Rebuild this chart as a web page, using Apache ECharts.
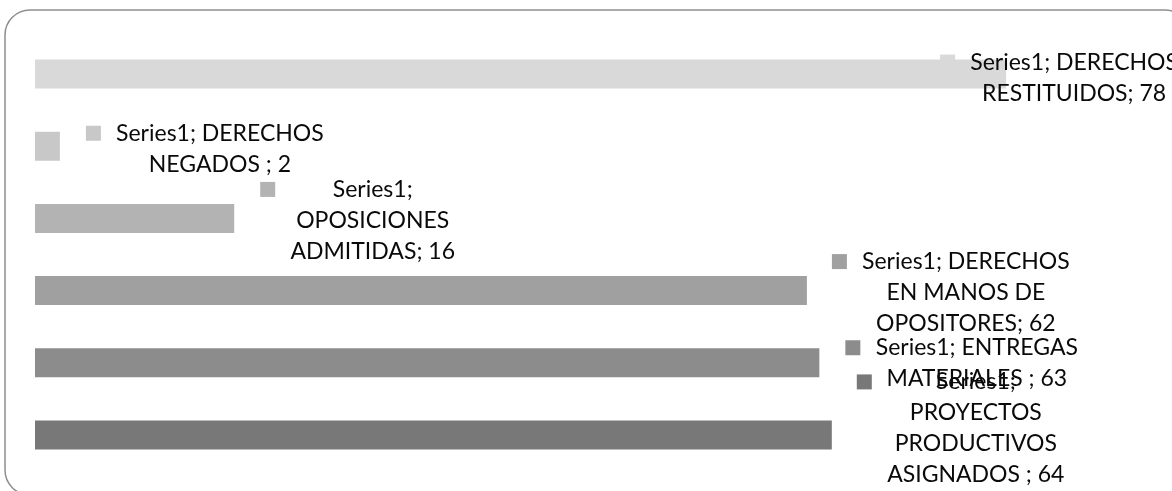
<!DOCTYPE html>
<html>
<head>
<meta charset="utf-8">
<script src="https://cdn.jsdelivr.net/npm/echarts@6/dist/echarts.min.js"></script>
<style>
  html, body { margin: 0; padding: 0; background: #fff; }
  #chart { width: 1172px; height: 491px; }
</style>
</head>
<body>
<div id="chart"></div>
<script>
// categorias y valores
var seriesName = 'Series1';
var categories = [
  'DERECHOS RESTITUIDOS',
  'DERECHOS NEGADOS ',
  'OPOSICIONES ADMITIDAS',
  'DERECHOS EN MANOS DE OPOSITORES',
  'ENTREGAS MATERIALES ',
  'PROYECTOS PRODUCTIVOS ASIGNADOS '
];
var values = [78, 2, 16, 62, 63, 64];
var colors = ['#d9d9d9', '#c8c8c8', '#b3b3b3', '#a0a0a0', '#8c8c8c', '#787878'];
// palabras por linea en cada etiqueta (como quedaron en Excel)
var labelLineWords = [[2, 2], [2, 3], [1, 1, 2], [2, 3, 2], [2, 3], [1, 1, 1, 3]];

// posicion de cada etiqueta: [x desde el final de la barra, centro 1a linea desde el centro de la barra]
var labelOffsets = [[-66, -12], [26, -13], [26, -29], [25, -29], [26, -15], [25, -53]];

var FONT = 'Lato';
var FSIZE = 23;
var LH = 31;

var ctx = document.createElement('canvas').getContext('2d');
ctx.font = FSIZE + 'px ' + FONT;

function splitLines(text, counts){
  var words = text.split(' ').filter(function(w){ return w !== ''; });
  var lines = [], pos = 0;
  for(var i=0; i<counts.length; i++){
    lines.push(words.slice(pos, pos + counts[i]).join(' '));
    pos += counts[i];
  }
  return lines;
}

var rich = {
  g: { width: 14, height: 15 },
  s: { width: 29, height: 15 }
};
var labelTexts = [];
for(var i=0; i<categories.length; i++){
  var lines = splitLines(seriesName + '; ' + categories[i] + '; ' + values[i], labelLineWords[i]);
  var w = 0;
  for(var k=0; k<lines.length; k++){
    w = Math.max(w, ctx.measureText(lines[k]).width);
  }
  rich['m' + i] = { width: 15, height: 15, backgroundColor: colors[i] };
  rich['t' + i] = {
    width: Math.ceil(w) + 2, align: 'center',
    fontFamily: FONT, fontSize: FSIZE, lineHeight: LH, color: '#0a0a0a'
  };
  var str = '';
  for(var k=0; k<lines.length; k++){
    if(k === 0){
      str += '{m' + i + '|}{g|}{t' + i + '|' + lines[k] + '}';
    }else{
      str += '\n{s|}{t' + i + '|' + lines[k] + '}';
    }
  }
  labelTexts.push(str);
}

var data = [];
for(var i=0; i<values.length; i++){
  data.push({ value: values[i], itemStyle: { color: colors[i] } });
}

var chart = echarts.init(document.getElementById('chart'), null, { renderer: 'canvas' });
var option = {
  animation: false,
  grid: { left: 35, right: 141, top: 38, bottom: 20 },
  xAxis: {
    type: 'value',
    min: 0,
    max: 80,
    show: false
  },
  yAxis: {
    type: 'category',
    data: categories,
    inverse: true,
    show: false
  },
  graphic: [{
    type: 'rect',
    z: -10,
    silent: true,
    shape: { x: 5, y: 10, width: 1185, height: 485, r: 25 },
    style: { fill: 'none', stroke: '#8e8e8e', lineWidth: 1.5 }
  }],
  series: [{
    name: seriesName,
    type: 'bar',
    data: data,
    barWidth: 29,
    label: {
      show: true,
      position: 'right',
      distance: 0,
      fontFamily: FONT,
      fontSize: FSIZE,
      lineHeight: LH,
      color: '#0a0a0a',
      textBorderWidth: 0,
      formatter: function(p){ return labelTexts[p.dataIndex]; },
      rich: rich
    },
    labelLayout: function(p){
      var off = labelOffsets[p.dataIndex];
      return {
        x: p.rect.x + p.rect.width + off[0],
        y: p.rect.y + p.rect.height / 2 + off[1] - LH / 2,
        align: 'left',
        verticalAlign: 'top',
        hideOverlap: false
      };
    }
  }]
};
chart.setOption(option);
</script>
</body>
</html>
